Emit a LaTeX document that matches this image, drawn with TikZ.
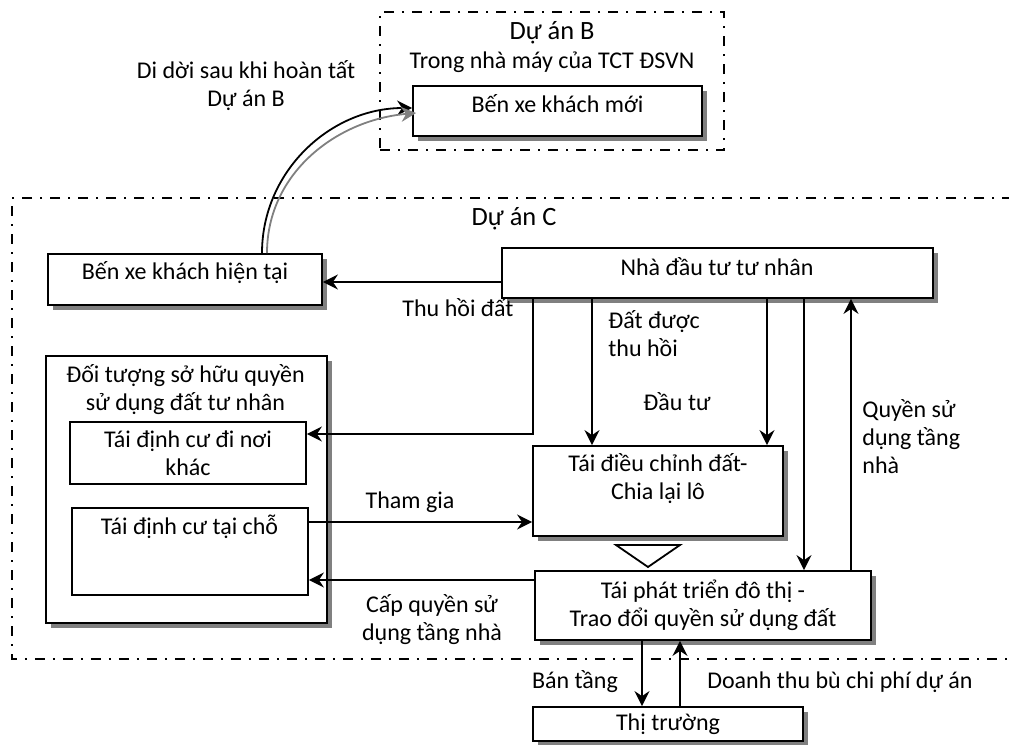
\documentclass[tikz,border=0pt]{standalone}
\usepackage{fontspec}
\setmainfont{Carlito}
\usetikzlibrary{
    arrows.meta,
    calc,
    positioning,
    shadows
}
\definecolor{ink}{RGB}{0,0,0}
\definecolor{shade}{RGB}{128,128,128}
\definecolor{relocgray}{RGB}{128,128,128}
\tikzset{
    box/.style={
        rectangle,
        draw=ink,
        line width=0.9pt,
        fill=white,
        inner sep=0pt,
        align=center,
        drop shadow={shadow xshift=2.6pt, shadow yshift=-2.6pt, fill=shade, opacity=1}
    },
    flatbox/.style={
        rectangle,
        draw=ink,
        line width=0.9pt,
        fill=white,
        inner sep=0pt,
        align=center
    },
    dashframe/.style={
        draw=ink,
        line width=0.9pt,
        dash pattern=on 5pt off 4pt on 1pt off 4pt
    },
    flow/.style={
        -{Stealth[length=7.5pt, width=7.5pt, inset=2.5pt]},
        draw=ink,
        line width=0.9pt
    },
    boxtext/.style={
        align=center,
        text=ink,
        inner sep=0pt
    },
    annot/.style={
        align=center,
        text=ink,
        inner sep=0pt
    },
    projtitle/.style={
        annot,
        font=\fontsize{13.2}{14}\selectfont
    }
}

\begin{document}
\begin{tikzpicture}[
    x=0.5pt, y=-0.5pt,
    every node/.style={font=\fontsize{12}{14}\selectfont}
]
\useasboundingbox (0,0) rectangle (1009,745);

% === Project frames ===
\node[dashframe, minimum width=172pt, minimum height=69pt] (projB) at (552,81) {};
\node[projtitle] (projBtitle) at (552,33) {Dự án B};
\node[annot] (projBsub) at (552,62) {Trong nhà máy của TCT ĐSVN};
\draw[dashframe] (1012,198) -- (12,198) -- (12,659) -- (1012,659);
\node[projtitle] (projCtitle) at (514,219) {Dự án C};

% === Bus stations ===
\node[box, minimum width=144.5pt, minimum height=25pt] (newbus) at (557.5,111) {};
\node[boxtext] (newbustext) at (557.5,104) {Bến xe khách mới};
\node[box, minimum width=137pt, minimum height=25.5pt] (busnow) at (185,279.5) {};
\node[boxtext] (busnowtext) at (185,273) {Bến xe khách hiện tại};

\node[annot] (movetext) at (246,86) {Di dời sau khi hoàn tất\\Dự án B};
\draw[flow] ($(busnow.north)+(77,0)$) to[out=90, in=180] ($(newbus.west)+(0,-3)$);
\draw[flow, draw=relocgray] ($(busnow.north)+(82,0)$) to[out=90, in=185] ($(newbus.west)+(4,2)$);

% === Investor ===
\node[box, minimum width=215.5pt, minimum height=25pt] (investor) at (717.5,273) {};
\node[boxtext] (investortext) at (717,267) {Nhà đầu tư tư nhân};

% === Land owners ===
\node[box, minimum width=140.5pt, minimum height=133.5pt] (owners) at (186.5,489.5) {};
\node[boxtext] (ownerstext) at (185.5,389.5) {Đối tượng sở hữu quyền\\sử dụng đất tư nhân};
\node[flatbox, minimum width=118pt, minimum height=31pt] (resite1) at (188,453) {Tái định cư đi nơi\\khác};
\node[flatbox, minimum width=118pt, minimum height=43.5pt] (resite2) at (190,551.5) {};
\node[boxtext] (resite2text) at (189.5,527) {Tái định cư tại chỗ};

% === Readjustment and renewal ===
\node[box, minimum width=125pt, minimum height=45pt] (readjust) at (658,491) {};
\node[boxtext] (readjusttext) at (658,478.5) {Tái điều chỉnh đất-\\Chia lại lô};
\draw[line width=0.9pt, draw=ink, fill=white] (616,545) -- (680,545) -- (648,567) -- cycle;
\node[box, minimum width=168pt, minimum height=34.5pt] (renewal) at (703,605.5) {Tái phát triển đô thị -\\Trao đổi quyền sử dụng đất};
\node[box, minimum width=135pt, minimum height=17pt] (market) at (668,724) {Thị trường};

% Flows
\draw[flow] (investor.west |- 0,282) -- (busnow.east |- 0,282);
\node[annot] (recovertext) at (458,308) {Thu hồi đất};
\draw[flow] (533,0 |- investor.south) |- (resite1.east |- 0,434);
\draw[flow] (592,0 |- investor.south) -- (592,0 |- readjust.north);
\node[annot, anchor=west, align=left] (landtext) at (608,334) {Đất được\\thu hồi};
\draw[flow] (767,0 |- investor.south) -- (767,0 |- readjust.north);
\node[annot] (investtext) at (677,402) {Đầu tư};
\draw[flow] (804,0 |- investor.south) -- (804,0 |- renewal.north);
\draw[flow] (851,0 |- renewal.north) -- (851,0 |- investor.south);
\node[annot, anchor=west, align=left] (rightstext) at (862,437) {Quyền sử\\dụng tầng\\nhà};
\draw[flow] (resite2.east |- 0,522) -- (readjust.west |- 0,522);
\node[annot] (jointext) at (410,502) {Tham gia};
\draw[flow] (renewal.west |- 0,580) -- (resite2.east |- 0,580);
\node[annot] (granttext) at (432,620) {Cấp quyền sử\\dụng tầng nhà};
\draw[flow] (642,0 |- renewal.south) -- (642,0 |- market.north);
\node[annot] (selltext) at (575,682) {Bán tầng};
\draw[flow] (680,0 |- market.north) -- (680,0 |- renewal.south);
\node[annot] (revenuetext) at (840,682) {Doanh thu bù chi phí dự án};

\end{tikzpicture}
\end{document}
